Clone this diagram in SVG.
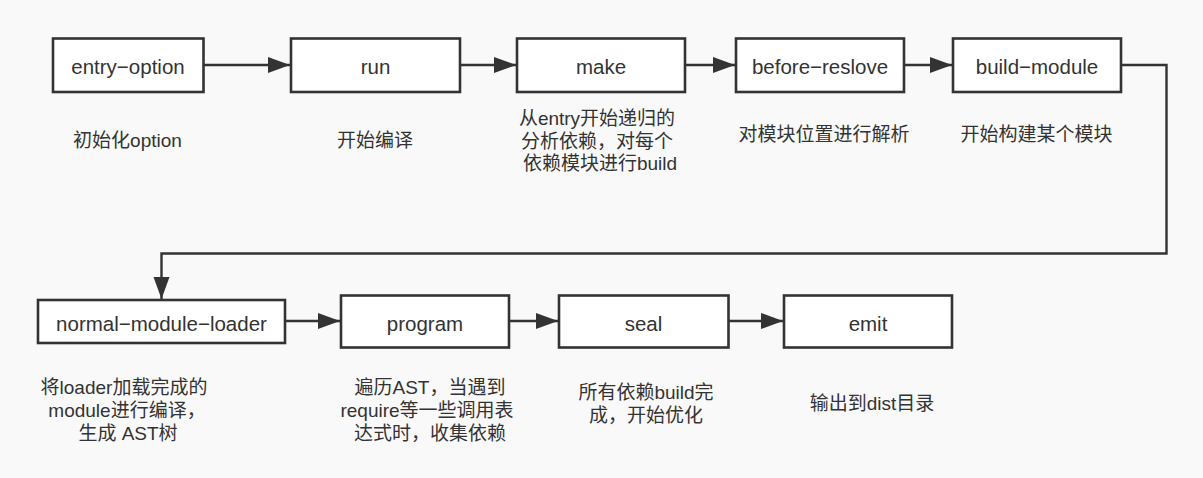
<svg xmlns="http://www.w3.org/2000/svg" width="1203" height="478" viewBox="0 0 1203 478">
<style>
.box{fill:#ffffff;stroke:#333333;stroke-width:2.6}
.lbl{font-family:"Liberation Sans","Noto Sans CJK SC",sans-serif;font-size:19px;fill:#333333;text-anchor:middle}
.nm{font-size:20.5px}
.edge{fill:none;stroke:#333333;stroke-width:2.4}
</style>
<defs>
<marker id="ah" markerUnits="userSpaceOnUse" markerWidth="24" markerHeight="18" refX="22" refY="8" orient="auto" viewBox="0 0 24 16">
<path d="M0,0 L22,8 L0,16 z" fill="#333333"/>
</marker>
</defs>
<rect width="1203" height="478" fill="#f9f9f9"/>
<g id="connectors">
<path class="edge" d="M204,65 H290" marker-end="url(#ah)"/>
<path class="edge" d="M461,65 H516" marker-end="url(#ah)"/>
<path class="edge" d="M686,65 H735" marker-end="url(#ah)"/>
<path class="edge" d="M905,65 H952" marker-end="url(#ah)"/>
<path class="edge" d="M1122,65 H1166.5 V253.5 H161.5 V299" marker-end="url(#ah)"/>
<path class="edge" d="M286,321 H340" marker-end="url(#ah)"/>
<path class="edge" d="M510,321 H558" marker-end="url(#ah)"/>
<path class="edge" d="M729,321 H783" marker-end="url(#ah)"/>
</g>
<g id="entry-option">
<rect class="box" x="53" y="38.5" width="150.5" height="53.5"/>
<text class="lbl nm" x="128" y="73.5">entry−option</text>
<text class="lbl" x="127.5" y="147">初始化option</text>
</g>
<g id="run">
<rect class="box" x="291" y="38.5" width="169" height="53.5"/>
<text class="lbl nm" x="375.5" y="73.5">run</text>
<text class="lbl" x="375" y="147">开始编译</text>
</g>
<g id="make">
<rect class="box" x="517" y="38.5" width="168" height="53.5"/>
<text class="lbl nm" x="601" y="73.5">make</text>
<text class="lbl" x="597" y="125">从entry开始递归的</text>
<text class="lbl" x="597" y="147.5">分析依赖，对每个</text>
<text class="lbl" x="600" y="170">依赖模块进行build</text>
</g>
<g id="before-reslove">
<rect class="box" x="736" y="38.5" width="168" height="53.5"/>
<text class="lbl nm" x="820" y="73.5">before−reslove</text>
<text class="lbl" x="824" y="141">对模块位置进行解析</text>
</g>
<g id="build-module">
<rect class="box" x="953" y="38.5" width="168" height="53.5"/>
<text class="lbl nm" x="1037" y="73.5">build−module</text>
<text class="lbl" x="1036.5" y="141">开始构建某个模块</text>
</g>
<g id="normal-module-loader">
<rect class="box" x="38" y="300" width="247" height="43"/>
<text class="lbl nm" x="161.5" y="331">normal−module−loader</text>
<text class="lbl" x="124" y="394">将loader加载完成的</text>
<text class="lbl" x="127" y="417">module进行编译，</text>
<text class="lbl" x="128" y="440">生成 AST树</text>
</g>
<g id="program">
<rect class="box" x="341" y="295.5" width="168" height="52"/>
<text class="lbl nm" x="425" y="331">program</text>
<text class="lbl" x="430" y="394">遍历AST，当遇到</text>
<text class="lbl" x="427" y="417">require等一些调用表</text>
<text class="lbl" x="430" y="440">达式时，收集依赖</text>
</g>
<g id="seal">
<rect class="box" x="559" y="295.5" width="169.5" height="52"/>
<text class="lbl nm" x="643.5" y="331">seal</text>
<text class="lbl" x="646" y="398.5">所有依赖build完</text>
<text class="lbl" x="646" y="422">成，开始优化</text>
</g>
<g id="emit">
<rect class="box" x="784" y="295.5" width="168" height="52"/>
<text class="lbl nm" x="868" y="331">emit</text>
<text class="lbl" x="872" y="410">输出到dist目录</text>
</g>
</svg>
